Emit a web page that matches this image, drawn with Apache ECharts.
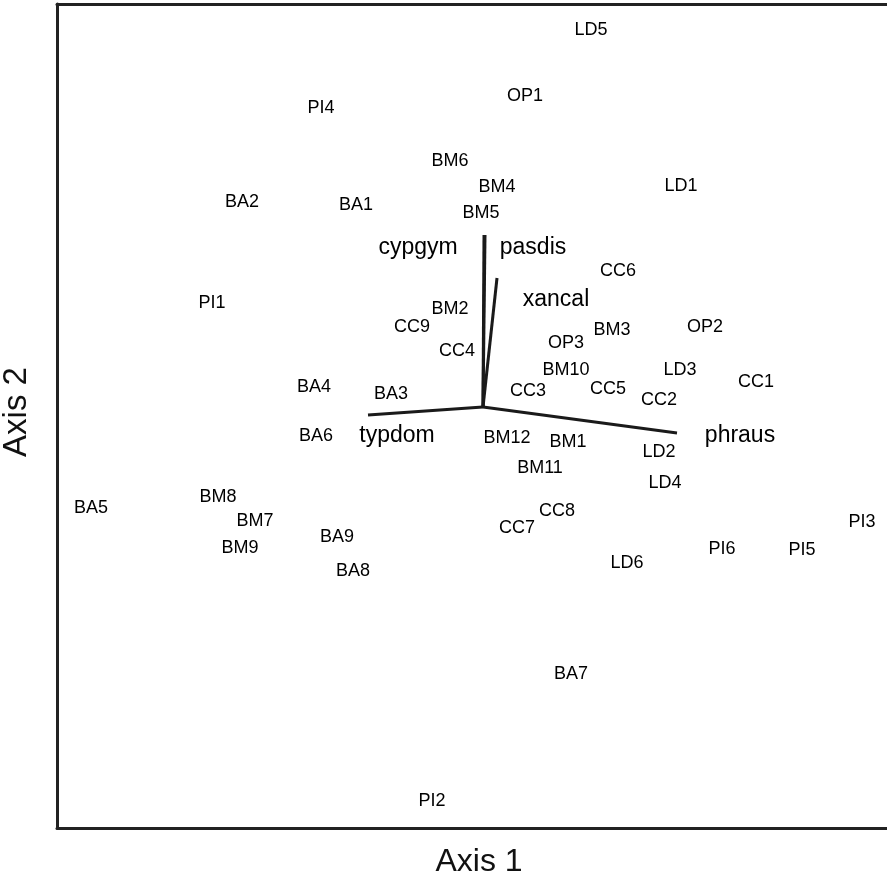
<!DOCTYPE html>
<html>
<head>
<meta charset="utf-8">
<script src="https://cdn.jsdelivr.net/npm/echarts@6/dist/echarts.min.js"></script>
<style>
html,body{margin:0;padding:0;background:#fff;}
#chart{width:887px;height:882px;}
</style>
</head>
<body>
<div id="chart"></div>
<script>
// Site scores (Axis 1, Axis 2)
const siteNames = ["LD5","OP1","PI4","BM6","BM4","LD1","BA2","BA1","BM5","CC6","PI1","BM2","CC9","BM3","OP2","OP3","CC4","BM10","LD3","CC1","BA4","BA3","CC3","CC5","CC2","BA6","BM12","BM1","LD2","BM11","LD4","BA5","BM8","BM7","CC8","CC7","PI3","BA9","BM9","PI6","PI5","LD6","BA8","BA7","PI2"];
const siteAxis1 = [0.54,0.21,-0.81,-0.165,0.07,0.99,-1.205,-0.635,-0.01,0.675,-1.355,-0.165,-0.355,0.645,1.11,0.415,-0.13,0.415,0.985,1.365,-0.845,-0.46,0.225,0.625,0.88,-0.835,0.12,0.425,0.88,0.285,0.91,-1.96,-1.325,-1.14,0.37,0.17,1.895,-0.73,-1.215,1.195,1.595,0.72,-0.65,0.44,-0.255];
const siteAxis2 = [1.885,1.555,1.495,1.23,1.10,1.105,1.025,1.01,0.97,0.68,0.52,0.49,0.40,0.385,0.40,0.32,0.28,0.185,0.185,0.125,0.10,0.065,0.08,0.09,0.035,-0.145,-0.155,-0.175,-0.225,-0.305,-0.38,-0.505,-0.45,-0.57,-0.52,-0.605,-0.575,-0.65,-0.705,-0.71,-0.715,-0.78,-0.82,-1.335,-1.97];

// Species vectors (end points) and their label positions
const speciesNames = ["cypgym","pasdis","xancal","typdom","phraus"];
const speciesAxis1 = [0.005,0.01,0.07,-0.575,0.97];
const speciesAxis2 = [0.86,0.86,0.645,-0.04,-0.13];
const speciesLabelAxis1 = [-0.325,0.25,0.365,-0.43,1.285];
const speciesLabelAxis2 = [0.795,0.795,0.535,-0.145,-0.145];

const xRange = [-2.13, 2.02];
const yRange = [-2.105, 2.015];

const chart = echarts.init(document.getElementById('chart'), null, {renderer:'canvas'});
const FONT = '"Liberation Sans", Arial, sans-serif';

const series = [];
series.push({
  type:'scatter',
  symbolSize:0,
  itemStyle:{opacity:1},
  data: siteNames.map((n,i)=>({name:n, value:[siteAxis1[i], siteAxis2[i]]})),
  label:{show:true, position:'inside', formatter:p=>p.name, color:'#000', opacity:1, fontSize:18, fontFamily:FONT},
  silent:true
});
speciesNames.forEach((n,i)=>{
  series.push({
    type:'line',
    data:[[0,0],[speciesAxis1[i], speciesAxis2[i]]],
    symbol:'none',
    lineStyle:{color:'#1a1a1a', width:3},
    silent:true
  });
});
series.push({
  type:'scatter',
  symbolSize:0,
  itemStyle:{opacity:1},
  data: speciesNames.map((n,i)=>({name:n, value:[speciesLabelAxis1[i], speciesLabelAxis2[i]]})),
  label:{show:true, position:'inside', formatter:p=>p.name, color:'#000', opacity:1, fontSize:23, fontFamily:FONT},
  silent:true
});

const frameLine = {show:true, onZero:false, lineStyle:{color:'#222', width:3}};
const hidden = {axisTick:{show:false}, axisLabel:{show:false}, splitLine:{show:false}};

chart.setOption({
  animation:false,
  backgroundColor:'#ffffff',
  grid:{left:57, top:4, right:0, bottom:54, show:false},
  xAxis:[
    Object.assign({type:'value', position:'bottom', min:xRange[0], max:xRange[1], axisLine:frameLine}, hidden),
    Object.assign({type:'value', position:'top', min:xRange[0], max:xRange[1], axisLine:frameLine}, hidden)
  ],
  yAxis:Object.assign({type:'value', position:'left', min:yRange[0], max:yRange[1], axisLine:frameLine}, hidden),
  graphic:[
    {type:'text', x:479, y:862, style:{text:'Axis 1', fontSize:32, fontFamily:FONT, fill:'#111', textAlign:'center', textVerticalAlign:'middle'}},
    {type:'text', x:17, y:412, rotation:Math.PI/2, style:{text:'Axis 2', fontSize:33, fontFamily:FONT, fill:'#111', textAlign:'center', textVerticalAlign:'middle'}}
  ],
  series:series
});
</script>
</body>
</html>
